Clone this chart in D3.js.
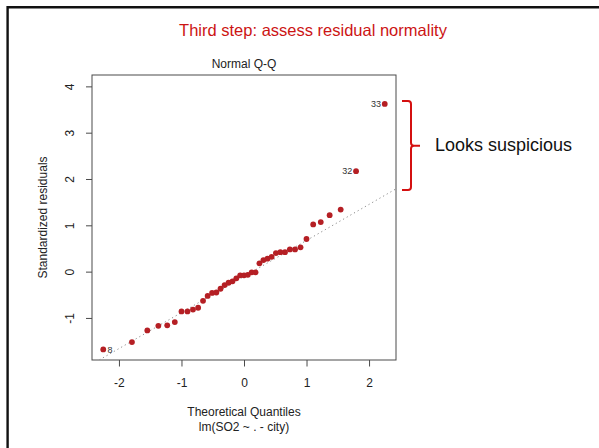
<!DOCTYPE html>
<html>
<head>
<meta charset="utf-8">
<script src="https://cdn.jsdelivr.net/npm/d3@7"></script>
<style>
  html, body { margin: 0; padding: 0; background: #fff; }
  svg { display: block; }
  text { font-family: "Liberation Sans", Arial, Helvetica, sans-serif; }
</style>
</head>
<body>
<div id="chart"></div>
<script>
// Normal Q-Q plot of standardized residuals for lm(SO2 ~ . - city), 41 observations

// Theoretical normal quantiles, qnorm(ppoints(41))
const theoreticalQuantiles = [
  -2.2509, -1.7921, -1.5463, -1.3697, -1.2277, -1.1066, -0.9995, -0.9040, -0.8161, -0.7335,
  -0.6553, -0.5817, -0.5106, -0.4422, -0.3755, -0.3104, -0.2470, -0.1845, -0.1228, -0.0612,
   0.0000,
   0.0612,  0.1228,  0.1845,  0.2470,  0.3104,  0.3755,  0.4422,  0.5106,  0.5817,  0.6553,
   0.7335,  0.8161,  0.9040,  0.9995,  1.1066,  1.2277,  1.3697,  1.5463,  1.7921,  2.2509
];

// Sorted standardized residuals
const standardizedResiduals = [
  -1.68, -1.52, -1.27, -1.17, -1.16, -1.09, -0.86, -0.86, -0.82, -0.78,
  -0.63, -0.525, -0.46, -0.45, -0.37, -0.29, -0.24, -0.21, -0.145, -0.08,
  -0.08,
  -0.07, -0.015, -0.015, 0.18, 0.25, 0.28, 0.32, 0.40, 0.42, 0.42,
   0.48, 0.48, 0.525, 0.705, 1.02, 1.07, 1.22, 1.34, 2.17, 3.62
];

// Observations flagged with their row numbers (rank in sorted order -> id)
const flaggedRanks = [0, 39, 40];
const flaggedIds = ["8", "32", "33"];

const xTicks = [-2, -1, 0, 1, 2];
const yTicks = [-1, 0, 1, 2, 3, 4];
const normalQuartiles = [-0.6745, 0.6745];

const slideTitle = "Third step: assess residual normality";
const plotTitle = "Normal Q-Q";
const xLabel = "Theoretical Quantiles";
const subLabel = "lm(SO2 ~ . - city)";
const yLabel = "Standardized residuals";
const note = "Looks suspicious";

const W = 599, H = 448;
const box = { left: 92, right: 396, top: 75, bottom: 360 };
const fontStack = '"Liberation Sans", Arial, sans-serif';
const plainNumber = d => String(d);   // ASCII hyphen for negatives

const svg = d3.select("#chart").append("svg")
  .attr("width", W).attr("height", H)
  .attr("viewBox", `0 0 ${W} ${H}`);

svg.append("rect").attr("width", W).attr("height", H).attr("fill", "#fff");

// slide frame (top and left edges)
svg.append("path")
  .attr("d", `M7.6,${H} V7.2 H${W}`)
  .attr("fill", "none").attr("stroke", "#111").attr("stroke-width", 2.4);

svg.append("text")
  .attr("x", 313).attr("y", 36)
  .attr("text-anchor", "middle")
  .attr("font-size", 16.5)
  .attr("fill", "#cc1414")
  .text(slideTitle);

// R-style limits: data range, extra headroom for labels, then 4% padding
const xExt = d3.extent(theoreticalQuantiles);
const xPad = (xExt[1] - xExt[0]) * 0.04;
const x = d3.scaleLinear().domain([xExt[0] - xPad, xExt[1] + xPad]).range([box.left, box.right]);

const yExt = d3.extent(standardizedResiduals);
const yTop = yExt[1] + (yExt[1] - yExt[0]) * 0.075;
const yPad = (yTop - yExt[0]) * 0.04;
const y = d3.scaleLinear().domain([yExt[0] - yPad, yTop + yPad]).range([box.bottom, box.top]);

const axisColor = "#4a4a4a";

// x axis
const xAxis = svg.append("g")
  .attr("transform", `translate(0,${box.bottom})`)
  .call(d3.axisBottom(x).tickValues(xTicks).tickSize(6.5).tickFormat(plainNumber));
xAxis.select(".domain").remove();
xAxis.selectAll("line").attr("stroke", axisColor);
xAxis.selectAll("text").attr("font-size", 12).attr("fill", "#222").attr("dy", null)
  .attr("y", 26.5)
  .style("font-family", fontStack);

// y axis with labels parallel to the axis
const yAxis = svg.append("g")
  .attr("transform", `translate(${box.left},0)`)
  .call(d3.axisLeft(y).tickValues(yTicks).tickSize(6).tickFormat(plainNumber));
yAxis.select(".domain").remove();
yAxis.selectAll("line").attr("stroke", axisColor);
yAxis.selectAll("text")
  .attr("x", null).attr("dy", null)
  .attr("text-anchor", "middle")
  .attr("transform", `translate(${74.3 - box.left},0) rotate(-90)`)
  .attr("font-size", 12).attr("fill", "#222")
  .style("font-family", fontStack);

// plot frame
svg.append("rect")
  .attr("x", box.left).attr("y", box.top)
  .attr("width", box.right - box.left).attr("height", box.bottom - box.top)
  .attr("fill", "none").attr("stroke", axisColor).attr("stroke-width", 1);

svg.append("clipPath").attr("id", "plot-clip")
  .append("rect")
  .attr("x", box.left).attr("y", box.top)
  .attr("width", box.right - box.left).attr("height", box.bottom - box.top);

// reference line through the quartiles (qqline)
const q1 = d3.quantile(standardizedResiduals, 0.25);
const q3 = d3.quantile(standardizedResiduals, 0.75);
const slope = (q3 - q1) / (normalQuartiles[1] - normalQuartiles[0]);
const intercept = q1 - slope * normalQuartiles[0];
const [xd0, xd1] = x.domain();
svg.append("line")
  .attr("clip-path", "url(#plot-clip)")
  .attr("x1", x(xd0)).attr("y1", y(intercept + slope * xd0))
  .attr("x2", x(xd1)).attr("y2", y(intercept + slope * xd1))
  .attr("stroke", "#8c8c8c").attr("stroke-width", 1)
  .attr("stroke-dasharray", "1.2,3");

// points
const pts = theoreticalQuantiles.map((q, i) => ({ q, r: standardizedResiduals[i] }));
svg.append("g").selectAll("circle").data(pts).join("circle")
  .attr("cx", d => x(d.q)).attr("cy", d => y(d.r))
  .attr("r", 2.9)
  .attr("fill", "#b51f24");

// id labels: extreme low point labelled on the right, high points on the left
svg.append("g").selectAll("text").data(flaggedRanks).join("text")
  .attr("x", (k) => x(theoreticalQuantiles[k]) + (standardizedResiduals[k] < 0 ? 4.3 : -3.7))
  .attr("y", (k) => y(standardizedResiduals[k]) + 3.2)
  .attr("text-anchor", (k) => standardizedResiduals[k] < 0 ? "start" : "end")
  .attr("font-size", 9)
  .attr("fill", "#333")
  .text((k, i) => flaggedIds[i]);

// titles
svg.append("text")
  .attr("x", (box.left + box.right) / 2).attr("y", 68.3)
  .attr("text-anchor", "middle").attr("font-size", 12).attr("fill", "#222")
  .text(plotTitle);

svg.append("text")
  .attr("x", (box.left + box.right) / 2).attr("y", 415.5)
  .attr("text-anchor", "middle").attr("font-size", 12).attr("fill", "#222")
  .text(xLabel);

svg.append("text")
  .attr("x", (box.left + box.right) / 2).attr("y", 430.5)
  .attr("text-anchor", "middle").attr("font-size", 12).attr("fill", "#222")
  .text(subLabel);

svg.append("text")
  .attr("transform", `translate(47,${(box.top + box.bottom) / 2}) rotate(-90)`)
  .attr("text-anchor", "middle").attr("font-size", 12).attr("fill", "#222")
  .text(yLabel);

// bracket around the two outlying residuals
const bx = 411, bTop = 101, bBot = 190, bMid = 145.7;
svg.append("path")
  .attr("d", `M402,${bTop} H${bx - 3} Q${bx},${bTop} ${bx},${bTop + 3} V${bMid - 3} Q${bx},${bMid} ${bx + 3},${bMid} H420` +
             ` M${bx + 3},${bMid} Q${bx},${bMid} ${bx},${bMid + 3} V${bBot - 3} Q${bx},${bBot} ${bx - 3},${bBot} H402`)
  .attr("fill", "none").attr("stroke", "#d41010").attr("stroke-width", 2);

svg.append("text")
  .attr("x", 435).attr("y", 151)
  .attr("font-size", 18).attr("fill", "#111")
  .text(note);
</script>
</body>
</html>
